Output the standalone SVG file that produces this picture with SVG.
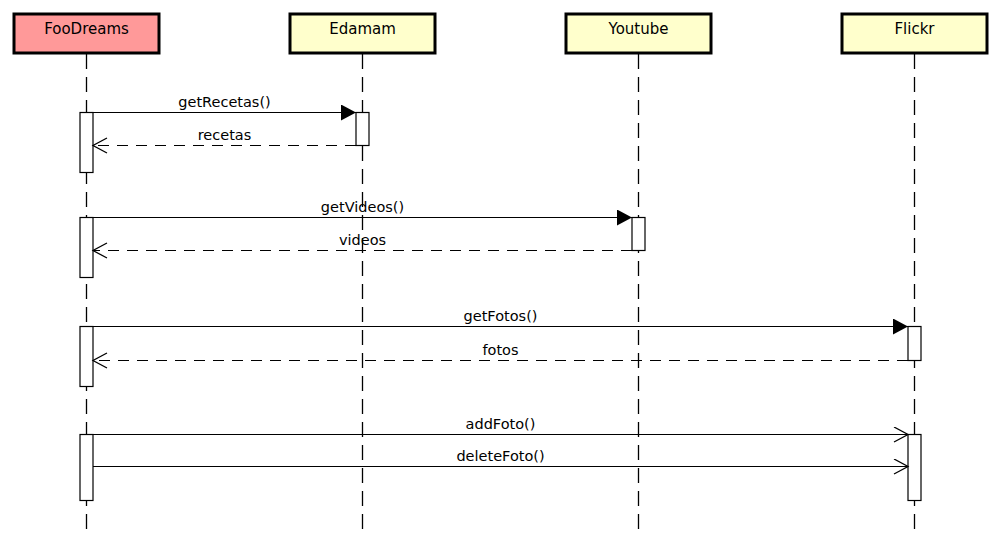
<svg xmlns="http://www.w3.org/2000/svg" width="1001" height="550" viewBox="0 0 1001 550">
<style>
.head{stroke:#000;stroke-width:3}
.hfoo{fill:#FF9999}
.hother{fill:#FFFFCC}
.htext{font-family:"DejaVu Sans",sans-serif;font-size:15px;text-anchor:middle;fill:#000}
.life{stroke:#000;stroke-width:1.3;stroke-dasharray:15 8;fill:none}
.bar{fill:#fff;stroke:#000;stroke-width:1.2}
.call{stroke:#000;stroke-width:1.2;fill:none}
.ret{stroke:#000;stroke-width:1.2;stroke-dasharray:11 8;fill:none}
.lbl{font-family:"DejaVu Sans",sans-serif;font-size:14.5px;text-anchor:middle;fill:#000}
</style>
<defs>
<marker id="filled" markerUnits="userSpaceOnUse" markerWidth="16" markerHeight="18" refX="15" refY="8" orient="auto">
<path d="M0,0 L15,8 L0,16 Z" fill="#000" stroke="none"/>
</marker>
<marker id="open" markerUnits="userSpaceOnUse" markerWidth="17" markerHeight="18" refX="15" refY="8" orient="auto">
<path d="M1,0.5 L15,8 L1,15.5" fill="none" stroke="#000" stroke-width="1.3" stroke-dasharray="none"/>
</marker>
</defs>
<rect width="1001" height="550" fill="#fff"/>

<g id="node-foodreams">
<rect class="head hfoo" x="14" y="14" width="145" height="39"/>
<text class="htext" x="86.5" y="34">FooDreams</text>
<line class="life" x1="86.5" y1="54" x2="86.5" y2="537"/>
<rect class="bar" x="80" y="112.5" width="13" height="60"/>
<rect class="bar" x="80" y="217.5" width="13" height="60"/>
<rect class="bar" x="80" y="326.5" width="13" height="60"/>
<rect class="bar" x="80" y="434.5" width="13" height="66"/>
</g>

<g id="node-edamam">
<rect class="head hother" x="290" y="14" width="145" height="39"/>
<text class="htext" x="362.5" y="34">Edamam</text>
<line class="life" x1="362.5" y1="54" x2="362.5" y2="537"/>
<rect class="bar" x="356" y="112.5" width="13" height="33"/>
</g>

<g id="node-youtube">
<rect class="head hother" x="566" y="14" width="145" height="39"/>
<text class="htext" x="638.5" y="34">Youtube</text>
<line class="life" x1="638.5" y1="54" x2="638.5" y2="537"/>
<rect class="bar" x="632" y="217.5" width="13" height="33"/>
</g>

<g id="node-flickr">
<rect class="head hother" x="842" y="14" width="145" height="39"/>
<text class="htext" x="914.5" y="34">Flickr</text>
<line class="life" x1="914.5" y1="54" x2="914.5" y2="537"/>
<rect class="bar" x="908" y="326.5" width="13" height="34"/>
<rect class="bar" x="908" y="434.5" width="13" height="66"/>
</g>

<g id="connectors">
<line class="call" x1="93" y1="112.5" x2="356" y2="112.5" marker-end="url(#filled)"/>
<text class="lbl" x="224.5" y="107">getRecetas()</text>
<line class="ret" x1="356" y1="145.5" x2="93" y2="145.5" marker-end="url(#open)"/>
<text class="lbl" x="224.5" y="140">recetas</text>

<line class="call" x1="93" y1="217.5" x2="632" y2="217.5" marker-end="url(#filled)"/>
<text class="lbl" x="362.5" y="212">getVideos()</text>
<line class="ret" x1="632" y1="250.5" x2="93" y2="250.5" marker-end="url(#open)"/>
<text class="lbl" x="362.5" y="245">videos</text>

<line class="call" x1="93" y1="326.5" x2="908" y2="326.5" marker-end="url(#filled)"/>
<text class="lbl" x="500.5" y="321">getFotos()</text>
<line class="ret" x1="908" y1="360.5" x2="93" y2="360.5" marker-end="url(#open)"/>
<text class="lbl" x="500.5" y="355">fotos</text>

<line class="call" x1="93" y1="434.5" x2="908" y2="434.5" marker-end="url(#open)"/>
<text class="lbl" x="500.5" y="429">addFoto()</text>
<line class="call" x1="93" y1="466.5" x2="908" y2="466.5" marker-end="url(#open)"/>
<text class="lbl" x="500.5" y="461">deleteFoto()</text>
</g>
</svg>
